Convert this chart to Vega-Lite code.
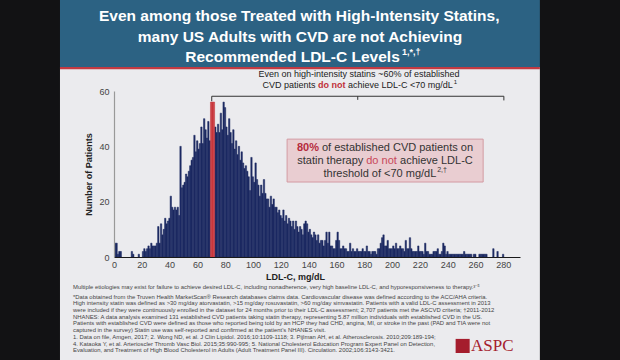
{
  "$schema": "https://vega.github.io/schema/vega-lite/v6.json",
  "autosize": {"type": "none"},
  "width": 406,
  "height": 166,
  "padding": {"left": 114, "top": 91, "right": 100, "bottom": 103},
  "background": "#121214",
  "config": {
    "view": {"stroke": null},
    "font": "Liberation Sans",
    "axis": {"grid": false, "ticks": false}
  },
  "datasets": {
    "hist": [
      {"ldl":0,"n":5},{"ldl":1,"n":5},{"ldl":2,"n":1},{"ldl":3,"n":2},{"ldl":4,"n":2},
      {"ldl":12,"n":2},{"ldl":13,"n":1},{"ldl":17,"n":1},{"ldl":20,"n":2},{"ldl":21,"n":3},
      {"ldl":22,"n":2},{"ldl":23,"n":3},{"ldl":24,"n":4},{"ldl":25,"n":3},{"ldl":26,"n":5},
      {"ldl":27,"n":4},{"ldl":28,"n":4},{"ldl":29,"n":4},{"ldl":30,"n":5},{"ldl":31,"n":11},
      {"ldl":32,"n":5},{"ldl":33,"n":12},{"ldl":34,"n":8},{"ldl":35,"n":10},{"ldl":36,"n":14},
      {"ldl":37,"n":12},{"ldl":38,"n":13},{"ldl":39,"n":14},{"ldl":40,"n":22},{"ldl":41,"n":18},
      {"ldl":42,"n":17},{"ldl":43,"n":18},{"ldl":44,"n":17},{"ldl":45,"n":18},{"ldl":46,"n":15},
      {"ldl":47,"n":40},{"ldl":48,"n":25},{"ldl":49,"n":26},{"ldl":50,"n":27},{"ldl":51,"n":30},
      {"ldl":52,"n":29},{"ldl":53,"n":31},{"ldl":54,"n":33},{"ldl":55,"n":35},{"ldl":56,"n":36},
      {"ldl":57,"n":44},{"ldl":58,"n":38},{"ldl":59,"n":42},{"ldl":60,"n":39},{"ldl":61,"n":41},
      {"ldl":62,"n":47},{"ldl":63,"n":41},{"ldl":64,"n":50},{"ldl":65,"n":46},{"ldl":66,"n":43},
      {"ldl":67,"n":49},{"ldl":68,"n":42},
      {"ldl":72,"n":47},{"ldl":73,"n":45},{"ldl":74,"n":48},{"ldl":75,"n":45},{"ldl":76,"n":52},
      {"ldl":77,"n":46},{"ldl":78,"n":56},{"ldl":79,"n":54},{"ldl":80,"n":47},{"ldl":81,"n":44},
      {"ldl":82,"n":50},{"ldl":83,"n":45},{"ldl":84,"n":41},{"ldl":85,"n":46},{"ldl":86,"n":39},
      {"ldl":87,"n":42},{"ldl":88,"n":37},{"ldl":89,"n":40},{"ldl":90,"n":35},{"ldl":91,"n":38},
      {"ldl":92,"n":34},{"ldl":93,"n":32},{"ldl":94,"n":33},{"ldl":95,"n":31},{"ldl":96,"n":29},
      {"ldl":97,"n":24},{"ldl":98,"n":36},{"ldl":99,"n":29},{"ldl":100,"n":27},{"ldl":101,"n":34},
      {"ldl":102,"n":28},{"ldl":103,"n":26},{"ldl":104,"n":22},{"ldl":105,"n":26},{"ldl":106,"n":23},
      {"ldl":107,"n":28},{"ldl":108,"n":23},{"ldl":109,"n":21},{"ldl":110,"n":21},{"ldl":111,"n":18},
      {"ldl":112,"n":22},{"ldl":113,"n":19},{"ldl":114,"n":21},{"ldl":115,"n":18},{"ldl":116,"n":18},
      {"ldl":117,"n":16},{"ldl":118,"n":17},{"ldl":119,"n":15},{"ldl":120,"n":14},{"ldl":121,"n":17},
      {"ldl":122,"n":13},{"ldl":123,"n":15},{"ldl":124,"n":12},{"ldl":125,"n":14},{"ldl":126,"n":13},
      {"ldl":127,"n":11},{"ldl":128,"n":13},{"ldl":129,"n":10},{"ldl":130,"n":13},{"ldl":131,"n":11},
      {"ldl":132,"n":9},{"ldl":133,"n":11},{"ldl":134,"n":10},{"ldl":135,"n":8},{"ldl":136,"n":12},
      {"ldl":137,"n":13},{"ldl":138,"n":12},{"ldl":139,"n":9},{"ldl":140,"n":10},{"ldl":141,"n":8},
      {"ldl":142,"n":7},{"ldl":143,"n":9},{"ldl":144,"n":8},{"ldl":145,"n":6},{"ldl":146,"n":8},
      {"ldl":147,"n":5},{"ldl":148,"n":6},{"ldl":149,"n":6},{"ldl":150,"n":4},{"ldl":151,"n":6},
      {"ldl":152,"n":9},{"ldl":153,"n":5},{"ldl":154,"n":9},{"ldl":155,"n":4},{"ldl":156,"n":4},
      {"ldl":157,"n":3},{"ldl":158,"n":3},{"ldl":159,"n":6},{"ldl":160,"n":9},{"ldl":161,"n":6},
      {"ldl":162,"n":3},{"ldl":163,"n":3},{"ldl":164,"n":4},{"ldl":165,"n":3},{"ldl":166,"n":3},
      {"ldl":167,"n":2},{"ldl":168,"n":2},{"ldl":169,"n":5},{"ldl":170,"n":2},{"ldl":171,"n":3},
      {"ldl":172,"n":2},{"ldl":173,"n":2},{"ldl":174,"n":3},{"ldl":175,"n":2},{"ldl":176,"n":2},
      {"ldl":177,"n":2},{"ldl":178,"n":3},{"ldl":179,"n":2},{"ldl":180,"n":2},{"ldl":181,"n":4},
      {"ldl":182,"n":2},{"ldl":183,"n":2},{"ldl":184,"n":1},{"ldl":185,"n":2},{"ldl":186,"n":2},
      {"ldl":187,"n":2},{"ldl":188,"n":1},{"ldl":189,"n":3},{"ldl":190,"n":3},{"ldl":191,"n":5},
      {"ldl":192,"n":7},{"ldl":193,"n":8},{"ldl":194,"n":4},{"ldl":195,"n":4},{"ldl":196,"n":6},
      {"ldl":197,"n":3},{"ldl":198,"n":3},{"ldl":199,"n":3},{"ldl":200,"n":4},{"ldl":201,"n":3},
      {"ldl":202,"n":5},{"ldl":203,"n":3},{"ldl":204,"n":3},{"ldl":205,"n":4},{"ldl":206,"n":3},
      {"ldl":207,"n":3},{"ldl":208,"n":2},{"ldl":209,"n":6},{"ldl":210,"n":3},{"ldl":211,"n":3},
      {"ldl":212,"n":7},{"ldl":213,"n":3},{"ldl":214,"n":2},{"ldl":215,"n":2},{"ldl":216,"n":2},
      {"ldl":217,"n":2},{"ldl":218,"n":4},{"ldl":219,"n":2},{"ldl":220,"n":2},{"ldl":221,"n":2},
      {"ldl":222,"n":1},{"ldl":223,"n":5},{"ldl":224,"n":2},{"ldl":225,"n":2},{"ldl":226,"n":1},
      {"ldl":227,"n":1},{"ldl":228,"n":1},{"ldl":229,"n":2},{"ldl":230,"n":2},{"ldl":231,"n":2},
      {"ldl":232,"n":3},{"ldl":233,"n":1},{"ldl":234,"n":1},{"ldl":235,"n":2},{"ldl":236,"n":5},
      {"ldl":237,"n":4},{"ldl":238,"n":1},{"ldl":239,"n":2},{"ldl":240,"n":1},{"ldl":241,"n":1},
      {"ldl":242,"n":1},{"ldl":243,"n":1},{"ldl":244,"n":1},{"ldl":245,"n":1},{"ldl":246,"n":1},
      {"ldl":247,"n":1},{"ldl":248,"n":1},{"ldl":249,"n":1},{"ldl":250,"n":1},{"ldl":251,"n":2},
      {"ldl":252,"n":1},{"ldl":253,"n":1},{"ldl":254,"n":1},{"ldl":255,"n":1},{"ldl":256,"n":1},
      {"ldl":258,"n":1},{"ldl":259,"n":1},{"ldl":262,"n":1},{"ldl":263,"n":1},{"ldl":264,"n":1},
      {"ldl":265,"n":1},{"ldl":266,"n":1},{"ldl":267,"n":1},{"ldl":272,"n":3},{"ldl":275,"n":2},
      {"ldl":279,"n":1}
    ],
    "highlight": [
      {"ldl":69,"n":56},{"ldl":70,"n":56},{"ldl":71,"n":56}
    ]
  },
  "layer": [
    {
      "data": {"values": [{}]},
      "mark": {"type": "rect", "color": "#ebebee"},
      "encoding": {
        "x": {"datum": -38.85, "type": "quantitative", "scale": {"domain": [0, 292]}},
        "x2": {"datum": 306.3},
        "y": {"datum": 68.67, "type": "quantitative", "scale": {"domain": [0, 60]}},
        "y2": {"datum": -37.3}
      }
    },
    {
      "data": {"values": [{}]},
      "mark": {"type": "rect", "color": "#2c6283"},
      "encoding": {
        "x": {"datum": -38.85, "type": "quantitative", "scale": {"domain": [0, 292]}},
        "x2": {"datum": 306.3},
        "y": {"datum": 93.0, "type": "quantitative", "scale": {"domain": [0, 60]}},
        "y2": {"datum": 68.67}
      }
    },
    {
      "data": {"values": [{}]},
      "mark": {"type": "rect", "color": "#c23a42"},
      "encoding": {
        "x": {"datum": -38.85, "type": "quantitative", "scale": {"domain": [0, 292]}},
        "x2": {"datum": 306.3},
        "y": {"datum": 68.67, "type": "quantitative", "scale": {"domain": [0, 60]}},
        "y2": {"datum": 67.9}
      }
    },
    {
      "data": {"name": "hist"},
      "mark": {"type": "bar", "color": "#1d2a62", "binSpacing": 0, "stroke": "#1d2a62", "strokeWidth": 0.5},
      "encoding": {
        "x": {
          "field": "ldl", "type": "quantitative", "bin": {"binned": true, "step": 1},
          "scale": {"domain": [0, 292]},
          "axis": {
            "title": "LDL-C, mg/dL", "values": [0,20,40,60,80,100,120,140,160,180,200,220,240,260,280],
            "zindex": 2,
            "labelFontSize": 9, "labelColor": "#444", "labelPadding": 3,
            "domainColor": "#1a1a1a", "domainWidth": 1,
            "titleFontSize": 9, "titleFontWeight": "bold", "titleColor": "#222",
            "titlePadding": 3, "titleX": 181, "labelFlush": false
          }
        },
        "y": {
          "field": "n", "type": "quantitative",
          "scale": {"domain": [0, 60]},
          "axis": {
            "title": "Number of Patients", "values": [0,10,20,30,40,50,60],
            "zindex": 2,
            "labelFontSize": 9, "labelColor": "#444", "labelPadding": 5,
            "domainColor": "#999", "domainWidth": 1.2,
            "titleFontSize": 9, "titleFontWeight": "bold", "titleColor": "#222",
            "titlePadding": 5
          }
        }
      }
    },
    {
      "data": {"name": "highlight"},
      "mark": {"type": "bar", "color": "#c8383e", "binSpacing": 0, "stroke": "#c8383e", "strokeWidth": 0.5},
      "encoding": {
        "x": {"field": "ldl", "type": "quantitative", "bin": {"binned": true, "step": 1}, "scale": {"domain": [0, 292]}},
        "y": {"field": "n", "type": "quantitative", "scale": {"domain": [0, 60]}}
      }
    },
    {
      "data": {"values": [{}]},
      "mark": {"type": "rule", "color": "#333", "strokeWidth": 1},
      "encoding": {
        "x": {"datum": 70.3, "type": "quantitative", "scale": {"domain": [0, 292]}},
        "x2": {"datum": 280.4},
        "y": {"datum": 58.1, "type": "quantitative", "scale": {"domain": [0, 60]}}
      }
    },
    {
      "data": {"values": [{}]},
      "mark": {"type": "rule", "color": "#333", "strokeWidth": 1},
      "encoding": {
        "x": {"datum": 70.3, "type": "quantitative", "scale": {"domain": [0, 292]}},
        "y": {"datum": 58.1, "type": "quantitative", "scale": {"domain": [0, 60]}},
        "y2": {"datum": 56.3}
      }
    },
    {
      "data": {"values": [{}]},
      "mark": {"type": "rule", "color": "#333", "strokeWidth": 1},
      "encoding": {
        "x": {"datum": 280.4, "type": "quantitative", "scale": {"domain": [0, 292]}},
        "y": {"datum": 58.1, "type": "quantitative", "scale": {"domain": [0, 60]}},
        "y2": {"datum": 56.6}
      }
    },
    {
      "data": {"values": [{}]},
      "mark": {"type": "rule", "color": "#333", "strokeWidth": 1},
      "encoding": {
        "x": {"datum": 175.3, "type": "quantitative", "scale": {"domain": [0, 292]}},
        "y": {"datum": 58.1, "type": "quantitative", "scale": {"domain": [0, 60]}},
        "y2": {"datum": 56.8}
      }
    },
    {
      "data": {"values": [{}]},
      "mark": {"type": "rect", "color": "#e9cdd1", "stroke": "#d39aa2", "strokeWidth": 1},
      "encoding": {
        "x": {"datum": 124.5, "type": "quantitative", "scale": {"domain": [0, 292]}},
        "x2": {"datum": 265.5},
        "y": {"datum": 42.6, "type": "quantitative", "scale": {"domain": [0, 60]}},
        "y2": {"datum": 27.1}
      }
    },
    {
      "data": {"values": [{"t": "Even among those Treated with High-Intensity Statins,"}]},
      "mark": {"type": "text", "color": "#ffffff", "fontSize": 15.5, "fontWeight": "bold", "align": "center", "baseline": "middle"},
      "encoding": {
        "text": {"field": "t"},
        "x": {"datum": 133.2, "type": "quantitative", "scale": {"domain": [0, 292]}},
        "y": {"datum": 87.1, "type": "quantitative", "scale": {"domain": [0, 60]}}
      }
    },
    {
      "data": {"values": [{"t": "many US Adults with CVD are not Achieving"}]},
      "mark": {"type": "text", "color": "#ffffff", "fontSize": 15.5, "fontWeight": "bold", "align": "center", "baseline": "middle"},
      "encoding": {
        "text": {"field": "t"},
        "x": {"datum": 133.8, "type": "quantitative", "scale": {"domain": [0, 292]}},
        "y": {"datum": 79.5, "type": "quantitative", "scale": {"domain": [0, 60]}}
      }
    },
    {
      "data": {"values": [{"t": "Recommended LDL-C Levels"}]},
      "mark": {"type": "text", "color": "#ffffff", "fontSize": 15.5, "fontWeight": "bold", "align": "center", "baseline": "middle"},
      "encoding": {
        "text": {"field": "t"},
        "x": {"datum": 128.4, "type": "quantitative", "scale": {"domain": [0, 292]}},
        "y": {"datum": 72.3, "type": "quantitative", "scale": {"domain": [0, 60]}}
      }
    },
    {
      "data": {"values": [{"t": "1,*,†"}]},
      "mark": {"type": "text", "color": "#ffffff", "fontSize": 9, "fontWeight": "bold", "align": "left", "baseline": "middle"},
      "encoding": {
        "text": {"field": "t"},
        "x": {"datum": 207.2, "type": "quantitative", "scale": {"domain": [0, 292]}},
        "y": {"datum": 74.0, "type": "quantitative", "scale": {"domain": [0, 60]}}
      }
    },
    {
      "data": {"values": [{"t": "Even on high-intensity statins ~60% of established"}]},
      "mark": {"type": "text", "color": "#222", "fontSize": 9, "align": "center", "baseline": "middle"},
      "encoding": {
        "text": {"field": "t"},
        "x": {"datum": 176.2, "type": "quantitative", "scale": {"domain": [0, 292]}},
        "y": {"datum": 66.1, "type": "quantitative", "scale": {"domain": [0, 60]}}
      }
    },
    {
      "data": {"values": [{"t": "CVD patients"}]},
      "mark": {"type": "text", "color": "#222", "fontSize": 9, "align": "left", "baseline": "middle"},
      "encoding": {
        "text": {"field": "t"},
        "x": {"datum": 106.8, "type": "quantitative", "scale": {"domain": [0, 292]}},
        "y": {"datum": 62.2, "type": "quantitative", "scale": {"domain": [0, 60]}}
      }
    },
    {
      "data": {"values": [{"t": "do not"}]},
      "mark": {"type": "text", "color": "#c0303a", "fontSize": 9, "fontWeight": "bold", "align": "left", "baseline": "middle"},
      "encoding": {
        "text": {"field": "t"},
        "x": {"datum": 146.8, "type": "quantitative", "scale": {"domain": [0, 292]}},
        "y": {"datum": 62.2, "type": "quantitative", "scale": {"domain": [0, 60]}}
      }
    },
    {
      "data": {"values": [{"t": "achieve LDL-C <70 mg/dL"}]},
      "mark": {"type": "text", "color": "#222", "fontSize": 9, "align": "left", "baseline": "middle"},
      "encoding": {
        "text": {"field": "t"},
        "x": {"datum": 168.3, "type": "quantitative", "scale": {"domain": [0, 292]}},
        "y": {"datum": 62.2, "type": "quantitative", "scale": {"domain": [0, 60]}}
      }
    },
    {
      "data": {"values": [{"t": "1"}]},
      "mark": {"type": "text", "color": "#222", "fontSize": 6, "align": "left", "baseline": "middle"},
      "encoding": {
        "text": {"field": "t"},
        "x": {"datum": 244.3, "type": "quantitative", "scale": {"domain": [0, 292]}},
        "y": {"datum": 63.3, "type": "quantitative", "scale": {"domain": [0, 60]}}
      }
    },
    {
      "data": {"values": [{"t": "80%"}]},
      "mark": {"type": "text", "color": "#b52a3c", "fontSize": 11, "fontWeight": "bold", "align": "left", "baseline": "middle"},
      "encoding": {
        "text": {"field": "t"},
        "x": {"datum": 131.6, "type": "quantitative", "scale": {"domain": [0, 292]}},
        "y": {"datum": 39.4, "type": "quantitative", "scale": {"domain": [0, 60]}}
      }
    },
    {
      "data": {"values": [{"t": "of established CVD patients on"}]},
      "mark": {"type": "text", "color": "#333", "fontSize": 11, "align": "left", "baseline": "middle"},
      "encoding": {
        "text": {"field": "t"},
        "x": {"datum": 149.6, "type": "quantitative", "scale": {"domain": [0, 292]}},
        "y": {"datum": 39.4, "type": "quantitative", "scale": {"domain": [0, 60]}}
      }
    },
    {
      "data": {"values": [{"t": "statin therapy"}]},
      "mark": {"type": "text", "color": "#333", "fontSize": 11, "align": "left", "baseline": "middle"},
      "encoding": {
        "text": {"field": "t"},
        "x": {"datum": 131.8, "type": "quantitative", "scale": {"domain": [0, 292]}},
        "y": {"datum": 34.7, "type": "quantitative", "scale": {"domain": [0, 60]}}
      }
    },
    {
      "data": {"values": [{"t": "do not"}]},
      "mark": {"type": "text", "color": "#c8485a", "fontSize": 11, "align": "left", "baseline": "middle"},
      "encoding": {
        "text": {"field": "t"},
        "x": {"datum": 181.4, "type": "quantitative", "scale": {"domain": [0, 292]}},
        "y": {"datum": 34.7, "type": "quantitative", "scale": {"domain": [0, 60]}}
      }
    },
    {
      "data": {"values": [{"t": "achieve LDL-C"}]},
      "mark": {"type": "text", "color": "#333", "fontSize": 11, "align": "left", "baseline": "middle"},
      "encoding": {
        "text": {"field": "t"},
        "x": {"datum": 205.7, "type": "quantitative", "scale": {"domain": [0, 292]}},
        "y": {"datum": 34.7, "type": "quantitative", "scale": {"domain": [0, 60]}}
      }
    },
    {
      "data": {"values": [{"t": "threshold of <70 mg/dL"}]},
      "mark": {"type": "text", "color": "#333", "fontSize": 11, "align": "left", "baseline": "middle"},
      "encoding": {
        "text": {"field": "t"},
        "x": {"datum": 150.7, "type": "quantitative", "scale": {"domain": [0, 292]}},
        "y": {"datum": 30.0, "type": "quantitative", "scale": {"domain": [0, 60]}}
      }
    },
    {
      "data": {"values": [{"t": "2,†"}]},
      "mark": {"type": "text", "color": "#333", "fontSize": 7, "align": "left", "baseline": "middle"},
      "encoding": {
        "text": {"field": "t"},
        "x": {"datum": 232.4, "type": "quantitative", "scale": {"domain": [0, 292]}},
        "y": {"datum": 31.4, "type": "quantitative", "scale": {"domain": [0, 60]}}
      }
    },
    {
      "data": {"values": [{"t": "Multiple etiologies may exist for failure to achieve desired LDL-C, including nonadherence, very high baseline LDL-C, and hyporesponsiveness to therapy.³⁻⁵"}]},
      "mark": {"type": "text", "color": "#444", "fontSize": 5.9, "align": "left", "baseline": "middle"},
      "encoding": {
        "text": {"field": "t"},
        "x": {"datum": -29.5, "type": "quantitative", "scale": {"domain": [0, 292]}},
        "y": {"datum": -11.0, "type": "quantitative", "scale": {"domain": [0, 60]}}
      }
    },
    {
      "data": {"values": [{"t": [
        "*Data obtained from the Truven Health MarketScan® Research databases claims data. Cardiovascular disease was defined according to the ACC/AHA criteria.",
        "High intensity statin was defined as >30 mg/day atorvastatin, >15 mg/day rosuvastatin, >60 mg/day simvastatin. Patients with a valid LDL-C assessment in 2013",
        "were included if they were continuously enrolled in the dataset for 24 months prior to their LDL-C assessment; 2,707 patients met the ASCVD criteria; †2011-2012",
        "NHANES: A data analysis examined 131 established CVD patients taking statin therapy, representing 5.87 million individuals with established CVD in the US.",
        "Patients with established CVD were defined as those who reported being told by an HCP they had CHD, angina, MI, or stroke in the past (PAD and TIA were not",
        "captured in the survey) Statin use was self-reported and confirmed at the patient's NHANES visit."
      ]}]},
      "mark": {"type": "text", "color": "#444", "fontSize": 5.9, "lineHeight": 6.65, "align": "left", "baseline": "middle"},
      "encoding": {
        "text": {"field": "t"},
        "x": {"datum": -29.5, "type": "quantitative", "scale": {"domain": [0, 292]}},
        "y": {"datum": -14.35, "type": "quantitative", "scale": {"domain": [0, 60]}}
      }
    },
    {
      "data": {"values": [{"t": [
        "1. Data on file, Amgen, 2017; 2. Wong ND, et al. J Clin Lipidol. 2016;10:1109-1118; 3. Pijlman AH, et al. Atherosclerosis. 2010;209:189-194;",
        "4. Kataoka Y, et al. Arterioscler Thromb Vasc Biol. 2015;35:990-995; 5. National Cholesterol Education Program Expert Panel on Detection,",
        "Evaluation, and Treatment of High Blood Cholesterol in Adults (Adult Treatment Panel III). Circulation. 2002;106:3143-3421."
      ]}]},
      "mark": {"type": "text", "color": "#444", "fontSize": 5.9, "lineHeight": 6.5, "align": "left", "baseline": "middle"},
      "encoding": {
        "text": {"field": "t"},
        "x": {"datum": -29.5, "type": "quantitative", "scale": {"domain": [0, 292]}},
        "y": {"datum": -29.0, "type": "quantitative", "scale": {"domain": [0, 60]}}
      }
    },
    {
      "data": {"values": [{}]},
      "mark": {"type": "rect", "color": "#a51d2d"},
      "encoding": {
        "x": {"datum": 245.7, "type": "quantitative", "scale": {"domain": [0, 292]}},
        "x2": {"datum": 255.8},
        "y": {"datum": -29.6, "type": "quantitative", "scale": {"domain": [0, 60]}},
        "y2": {"datum": -34.7}
      }
    },
    {
      "data": {"values": [{"t": "ASPC"}]},
      "mark": {"type": "text", "color": "#a51d2d", "font": "Liberation Serif", "fontSize": 17, "align": "left", "baseline": "middle"},
      "encoding": {
        "text": {"field": "t"},
        "x": {"datum": 256.8, "type": "quantitative", "scale": {"domain": [0, 292]}},
        "y": {"datum": -32.2, "type": "quantitative", "scale": {"domain": [0, 60]}}
      }
    }
  ]
}
